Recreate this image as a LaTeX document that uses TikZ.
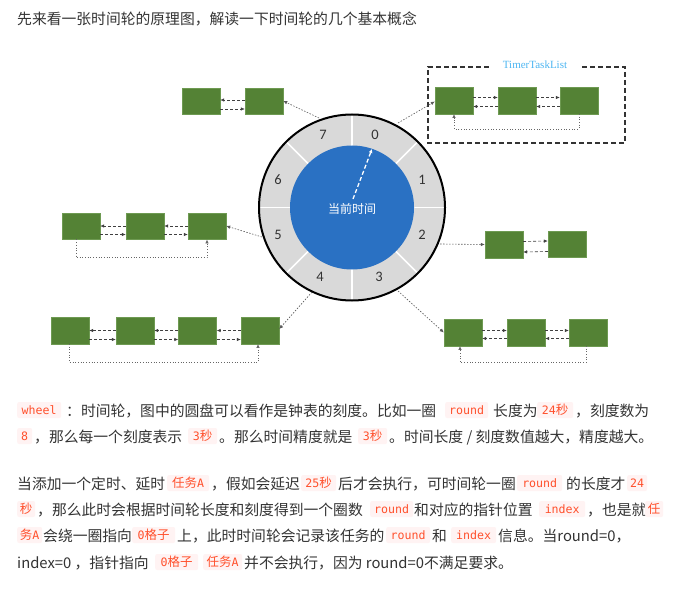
\documentclass[tikz,border=0pt]{standalone}
\usepackage{fontspec}
\setmainfont{Noto Sans CJK SC}
\newfontfamily\cjk{Noto Sans CJK SC}
\newfontfamily\monof{DejaVu Sans Mono}
\newfontfamily\numf{Carlito}
\newfontfamily\serf{Liberation Serif}
\usetikzlibrary{arrows.meta}
\definecolor{txt}{HTML}{333333}
\definecolor{codefg}{HTML}{FF502C}
\definecolor{codebg}{HTML}{FFF3F3}
\definecolor{boxg}{HTML}{548235}
\definecolor{boxedge}{HTML}{6E9A52}
\definecolor{wheelblue}{HTML}{2A71C3}
\definecolor{ringgray}{HTML}{D9D9D9}
\definecolor{tlblue}{HTML}{4DB6F2}
\newcommand\codefnt{\monof\fontsize{11.6}{14}\selectfont}
\newcommand\cc[1]{{\cjk\fontsize{12.5}{14}\selectfont #1}}
\tikzset{
  tbox/.style={fill=boxg, draw=boxedge, line width=0.4pt, minimum width=38pt, minimum height=26.5pt, inner sep=0pt},
  link/.style={densely dashed, draw=black!75, line width=0.6pt, -{Latex[length=4pt,width=3.5pt]}},
  loopline/.style={dotted, draw=black!60, line width=0.7pt, -{Latex[length=4pt,width=3.5pt]}},
  conn/.style={dash pattern=on 1.5pt off 1.5pt, draw=black!65, line width=0.6pt, -{Latex[length=4pt,width=3.5pt]}},
  body/.style={anchor=base west, font=\cjk\fontsize{14.8}{18}\selectfont, text=txt, inner sep=0pt},
  code/.style={anchor=west, fill=codebg, rounded corners=2pt, text=codefg, font=\codefnt, inner xsep=0pt, inner ysep=2pt, text height=10pt, text depth=2pt},
  num/.style={font=\numf\fontsize{14.5}{16}\selectfont, text=txt, inner sep=0pt},
}
\begin{document}
\begin{tikzpicture}[x=1pt,y=-1pt]
\fill[white] (0,0) rectangle (684,588);
\useasboundingbox (0,0) rectangle (684,588);

% title
\node[body] (title) at (17,25) {先来看一张时间轮的原理图，解读一下时间轮的几个基本概念};

% wheel
\coordinate (C) at (352,207.5);
\fill[ringgray] (C) circle[radius=93pt];
\foreach \a in {0,45,...,315} \draw[white, line width=1.6pt] (C) -- ++(\a:93pt);
\fill[wheelblue] (C) circle[radius=62pt];
\draw[black, line width=2pt] (C) circle[radius=93pt];
\node[num] (n0) at (375,135) {0};
\node[num] (n1) at (422,180) {1};
\node[num] (n2) at (422,235) {2};
\node[num] (n3) at (379,277) {3};
\node[num] (n4) at (320,277) {4};
\node[num] (n5) at (278,235) {5};
\node[num] (n6) at (278,180) {6};
\node[num] (n7) at (323,135) {7};
\node[font=\cjk\fontsize{12}{14}\selectfont, text=white, inner sep=0pt] (now) at (352,209) {当前时间};
\coordinate (hand0) at (353,199);
\coordinate (hand1) at (372,149);
\draw[white, dash pattern=on 4pt off 2.5pt, line width=1.3pt, -{Latex[length=4pt,width=4pt]}] (hand0) -- (hand1);

% boxes
\node[tbox] (A1) at (201,101) {};
\node[tbox] (A2) at (264,101) {};
\node[tbox] (B1) at (454,100.5) {};
\node[tbox] (B2) at (517,100.5) {};
\node[tbox] (B3) at (579,100.5) {};
\node[tbox] (C1) at (81,226) {};
\node[tbox] (C2) at (145,226) {};
\node[tbox] (C3) at (207,226) {};
\node[tbox] (D1) at (504,244.5) {};
\node[tbox] (D2) at (567,244) {};
\node[tbox] (E1) at (70,330.5) {};
\node[tbox] (E2) at (135,330.5) {};
\node[tbox] (E3) at (197.5,330.5) {};
\node[tbox] (E4) at (260,330.5) {};
\node[tbox] (F1) at (463,332.5) {};
\node[tbox] (F2) at (526,332.5) {};
\node[tbox] (F3) at (588,332.5) {};

% TimerTaskList frame
\draw[black!80, dash pattern=on 5pt off 3pt, line width=1.1pt] (582,67) -- (625,67) -- (625,143) -- (428,143) -- (428,67) -- (490,67);
\node[font=\serf\fontsize{11}{13}\selectfont, text=tlblue, inner sep=0pt] (tl) at (535,65) {TimerTaskList};

% links: left groups (upper left, lower right)
\draw[link] ([yshift=1pt]A2.west) -- ([yshift=1pt]A1.east);
\draw[link] ([yshift=-8pt]A1.east) -- ([yshift=-8pt]A2.west);
\draw[link] ([yshift=0pt]C2.west) -- ([yshift=0pt]C1.east);
\draw[link] ([yshift=-8.5pt]C1.east) -- ([yshift=-8.5pt]C2.west);
\draw[link] ([yshift=0pt]C3.west) -- ([yshift=0pt]C2.east);
\draw[link] ([yshift=-8.5pt]C2.east) -- ([yshift=-8.5pt]C3.west);
\draw[link] ([yshift=0pt]E2.west) -- ([yshift=0pt]E1.east);
\draw[link] ([yshift=-9pt]E1.east) -- ([yshift=-9pt]E2.west);
\draw[link] ([yshift=0pt]E3.west) -- ([yshift=0pt]E2.east);
\draw[link] ([yshift=-9pt]E2.east) -- ([yshift=-9pt]E3.west);
\draw[link] ([yshift=0pt]E4.west) -- ([yshift=0pt]E3.east);
\draw[link] ([yshift=-9pt]E3.east) -- ([yshift=-9pt]E4.west);
% right groups (upper right, lower left)
\draw[link] ([yshift=3pt]B1.east) -- ([yshift=3pt]B2.west);
\draw[link] ([yshift=-6pt]B2.west) -- ([yshift=-6pt]B1.east);
\draw[link] ([yshift=3pt]B2.east) -- ([yshift=3pt]B3.west);
\draw[link] ([yshift=-6pt]B3.west) -- ([yshift=-6pt]B2.east);
\draw[link] ([yshift=3pt]D1.east) -- ([yshift=3pt]D2.west);
\draw[link] ([yshift=-7.5pt]D2.west) -- ([yshift=-7.5pt]D1.east);
\draw[link] ([yshift=2pt]F1.east) -- ([yshift=2pt]F2.west);
\draw[link] ([yshift=-6pt]F2.west) -- ([yshift=-6pt]F1.east);
\draw[link] ([yshift=2pt]F2.east) -- ([yshift=2pt]F3.west);
\draw[link] ([yshift=-6pt]F3.west) -- ([yshift=-6pt]F2.east);

% loops
\draw[loopline] (B3.south) -- ++(0,15) -| (B1.south);
\draw[loopline] ([xshift=-5pt]C1.south) -- ++(0,18) -| (C3.south);
\draw[loopline] ([xshift=-1pt]E1.south) -- ++(0,18) -| ([xshift=-2pt]E4.south);
\draw[loopline] ([xshift=-2pt]F3.south) -- ++(0,16.5) -| ([xshift=-3pt]F1.south);

% wheel connectors
\coordinate (w7) at (319,118);
\coordinate (w0) at (398,123);
\coordinate (w5) at (262,237);
\coordinate (w2) at (440,244);
\coordinate (w4) at (312,292);
\coordinate (w3) at (398,291);
\draw[conn] (w7) -- (A2.east);
\draw[conn] (w0) -- ([yshift=-1pt]B1.west);
\draw[conn] (w5) -- (C3.east);
\draw[conn] (w2) -- (D1.west);
\draw[conn] (w4) -- ([yshift=1.5pt]E4.east);
\draw[conn] (w3) -- (F1.west);

% paragraph 1
\node[code, minimum width=44pt] (p1a) at (17,410) {wheel};
\node[body] (t1a) at (66,416) {：时间轮，图中的圆盘可以看作是钟表的刻度。比如一圈};
\node[code, minimum width=43pt] (p1b) at (445,410) {round};
\node[body] (t1b) at (493,416) {长度为};
\node[code, minimum width=36pt] (p1c) at (537,410) {24\cc{秒}};
\node[body] (t1c) at (575,416) {，刻度数为};

\node[code, minimum width=15pt] (p2a) at (17,436) {8};
\node[body] (t2a) at (34,442) {，那么每一个刻度表示};
\node[code, minimum width=29pt] (p2b) at (188,436) {3\cc{秒}};
\node[body] (t2b) at (219,442) {。那么时间精度就是};
\node[code, minimum width=29pt] (p2c) at (358,436) {3\cc{秒}};
\node[body] (t2c) at (389,442) {。时间长度 / 刻度数值越大，精度越大。};

% paragraph 2
\node[body] (t3a) at (17,489) {当添加一个定时、延时};
\node[code, minimum width=42pt] (p3a) at (167,483) {\cc{任务}A};
\node[body] (t3b) at (211,489) {，假如会延迟};
\node[code, minimum width=35pt] (p3b) at (301,483) {25\cc{秒}};
\node[body] (t3c) at (338,489) {后才会执行，可时间轮一圈};
\node[code, minimum width=45pt] (p3c) at (517,483) {round};
\node[body] (t3d) at (566,489) {的长度才};
\node[code, minimum width=20pt] (p3d) at (627,483) {24};

\node[code, minimum width=18pt] (p4a) at (17,509) {\cc{秒}};
\node[body] (t4a) at (37,515) {，那么此时会根据时间轮长度和刻度得到一个圈数};
\node[code, minimum width=43pt] (p4b) at (370,509) {round};
\node[body] (t4b) at (414,515) {和对应的指针位置};
\node[code, minimum width=46pt] (p4c) at (539,509) {index};
\node[body] (t4c) at (587,515) {，也是就};
\node[code, minimum width=18pt] (p4d) at (645,509) {\cc{任}};

\node[code, minimum width=25pt] (p5a) at (17,535) {\cc{务}A};
\node[body] (t5a) at (43,541) {会绕一圈指向};
\node[code, minimum width=43pt] (p5b) at (132,535) {0\cc{格子}};
\node[body] (t5b) at (177,541) {上，此时时间轮会记录该任务的};
\node[code, minimum width=44pt] (p5c) at (386,535) {round};
\node[body] (t5c) at (432,541) {和};
\node[code, minimum width=45pt] (p5d) at (451,535) {index};
\node[body] (t5d) at (498,541) {信息。当round=0，};

\node[body] (t6a) at (17,568) {index=0 ，指针指向};
\node[code, minimum width=43pt] (p6a) at (155,562) {0\cc{格子}};
\node[code, minimum width=39pt] (p6b) at (203,562) {\cc{任务}A};
\node[body] (t6b) at (244,568) {并不会执行，因为 round=0不满足要求。};
\end{tikzpicture}
\end{document}
